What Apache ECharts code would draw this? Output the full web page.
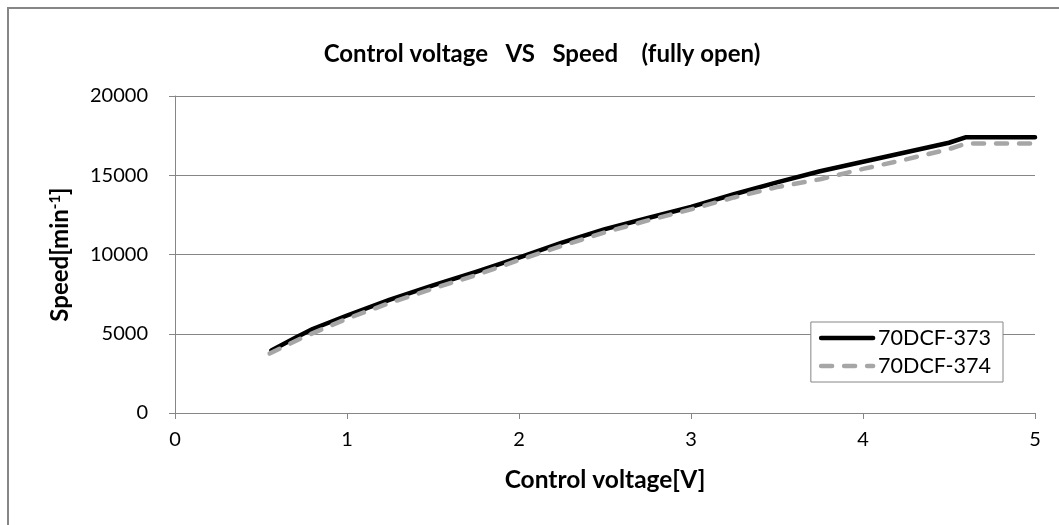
<!DOCTYPE html>
<html lang="en">
<head>
    <meta charset="UTF-8">
    <title>Control voltage VS Speed</title>
    <style>
        html, body { margin: 0; padding: 0; background: #fff; }
        #main { width: 1059px; height: 525px; }
    </style>
</head>
<body>
    <div id="main"></div>
    <script src="https://cdn.jsdelivr.net/npm/echarts@6/dist/echarts.min.js"></script>
    <script>
        // voltage [V] -> speed [min-1]
        var volt373 = [0.56, 0.7, 0.8, 1.0, 1.25, 1.5, 1.75, 2.0, 2.25, 2.5, 2.75, 3.0, 3.25, 3.5, 3.75, 4.0, 4.25, 4.5, 4.6, 5.0];
        var speed373 = [3950, 4750, 5300, 6150, 7150, 8050, 8900, 9800, 10750, 11600, 12300, 13000, 13800, 14550, 15250, 15850, 16450, 17050, 17400, 17400];

        var volt374 = [0.55, 0.75, 1.0, 1.25, 1.5, 1.75, 2.0, 2.25, 2.5, 2.75, 3.0, 3.25, 3.5, 3.75, 4.0, 4.25, 4.5, 4.6, 5.0];
        var speed374 = [3750, 4800, 5950, 6950, 7850, 8700, 9650, 10550, 11400, 12150, 12850, 13600, 14250, 14750, 15400, 16000, 16650, 17000, 17000];

        var xTicks = [0, 1, 2, 3, 4, 5];
        var yTicks = [0, 5000, 10000, 15000, 20000];

        function pairs(xs, ys) {
            return xs.map(function (x, i) { return [x, ys[i]]; });
        }

        var font = 'Lato, "Open Sans", sans-serif';
        var gridColor = '#868686';

        var option = {
            backgroundColor: '#fff',
            animation: false,
            title: {
                text: 'Control voltage   VS   Speed    (fully open)',
                left: 537,
                textAlign: 'center',
                top: 37,
                textStyle: { fontFamily: font, fontSize: 24, fontWeight: 'bold', color: '#000' }
            },
            graphic: [{
                type: 'rect',
                shape: { x: 8, y: 8, width: 1100, height: 600 },
                style: { fill: 'none', stroke: '#868686', lineWidth: 2 },
                silent: true
            }],
            legend: {
                orient: 'vertical',
                right: 56,
                bottom: 143,
                backgroundColor: '#fff',
                borderColor: '#868686',
                borderWidth: 1,
                borderRadius: 0,
                padding: [5, 12, 5, 8],
                itemWidth: 52,
                itemHeight: 14,
                itemGap: 6,
                itemStyle: { opacity: 0 },
                textStyle: { fontFamily: font, fontSize: 21.5, color: '#000' },
                data: [
                    { name: '70DCF-373', lineStyle: { width: 4.5 } },
                    { name: '70DCF-374', lineStyle: { width: 4.5 } }
                ]
            },
            grid: { left: 175, right: 24, top: 96, bottom: 112 },
            xAxis: {
                type: 'value',
                min: 0,
                max: 5,
                interval: 1,
                name: 'Control voltage[V]',
                nameLocation: 'middle',
                nameGap: 55,
                nameTextStyle: { fontFamily: font, fontSize: 24.5, fontWeight: 'bold', color: '#000' },
                axisLine: { show: true, lineStyle: { color: gridColor, width: 1 } },
                axisTick: { show: true, length: 6, lineStyle: { color: gridColor } },
                axisLabel: {
                    margin: 17,
                    fontFamily: font, fontSize: 20, color: '#000',
                    formatter: function (v) { return xTicks.indexOf(v) >= 0 ? String(v) : ''; }
                },
                splitLine: { show: false }
            },
            yAxis: {
                type: 'value',
                min: 0,
                max: 20000,
                interval: 5000,
                name: '{a|Speed[min}{b|-1}{a|]}',
                nameLocation: 'middle',
                nameGap: 102,
                nameTextStyle: {
                    rich: {
                        a: { fontFamily: font, fontSize: 24, fontWeight: 'bold', color: '#000' },
                        b: { fontFamily: font, fontSize: 15, fontWeight: 'bold', color: '#000', verticalAlign: 'top', padding: [0, 0, 10, 0] }
                    }
                },
                axisLine: { show: true, lineStyle: { color: gridColor, width: 1 } },
                axisTick: { show: true, length: 6, lineStyle: { color: gridColor } },
                axisLabel: {
                    margin: 27,
                    fontFamily: font, fontSize: 20, color: '#000',
                    formatter: function (v) { return yTicks.indexOf(v) >= 0 ? String(v) : ''; }
                },
                splitLine: { show: true, lineStyle: { color: gridColor, width: 1 } }
            },
            series: [{
                name: '70DCF-373',
                type: 'line',
                symbol: 'none',
                color: '#000',
                lineStyle: { color: '#000', width: 4.5, join: 'round', cap: 'round' },
                data: pairs(volt373, speed373)
            }, {
                name: '70DCF-374',
                type: 'line',
                symbol: 'none',
                color: '#a6a6a6',
                lineStyle: { color: '#a6a6a6', width: 4.5, type: [11, 12], cap: 'round', join: 'round' },
                data: pairs(volt374, speed374)
            }]
        };

        var myChart = echarts.init(document.getElementById('main'));
        myChart.setOption(option);
    </script>
</body>
</html>
